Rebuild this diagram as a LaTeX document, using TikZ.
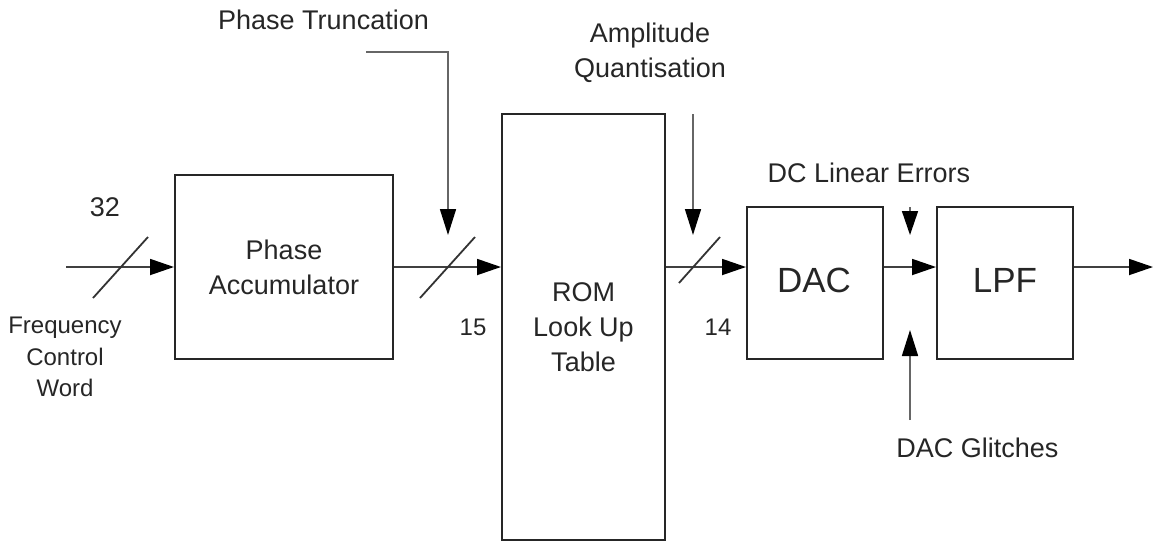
\documentclass[tikz,border=0pt]{standalone}
\usepackage{fontspec}
\setmainfont{Liberation Sans}
\usetikzlibrary{arrows.meta}
\begin{document}
\begin{tikzpicture}[x=1pt,y=-1pt,
  block/.style={draw=black!85, line width=2pt, inner sep=0pt, align=center, text=black!85},
  txtbig/.style={font=\fontsize{27}{35}\selectfont},
  txthuge/.style={font=\fontsize{35}{42}\selectfont},
  lbl/.style={inner sep=0pt, align=center, text=black!85, font=\fontsize{27}{35}\selectfont},
  small/.style={inner sep=0pt, align=center, text=black!85, font=\fontsize{24}{31.5}\selectfont},
  sig/.style={line width=1.8pt, draw=black!75, -{Triangle[length=24pt,width=16pt,color=black]}},
  err/.style={line width=1.6pt, draw=black!60, -{Triangle[length=26pt,width=16pt,color=black]}},
  bus/.style={line width=1.8pt, draw=black!80}]
\useasboundingbox (0,0) rectangle (1155,542);

% processing blocks
\node[block, txtbig, minimum width=218pt, minimum height=184pt] (pa) at (284,267) {Phase\\Accumulator};
\node[block, txtbig, minimum width=163pt, minimum height=426pt] (rom) at (583.5,327) {ROM\\Look Up\\Table};
\node[block, minimum width=136pt, minimum height=152pt] (dac) at (815,283) {};
\node[block, minimum width=136pt, minimum height=152pt] (lpf) at (1005,283) {};
\node[txthuge, inner sep=0pt, text=black!85] (dact) at (814,280) {DAC};
\node[txthuge, inner sep=0pt, text=black!85] (lpft) at (1005,280) {LPF};

% signal path end points and bus markers
\coordinate (fin) at (66,267);
\coordinate (fout) at (1153,267);
\coordinate (s1) at (121,267);
\coordinate (s2) at (448,267);
\coordinate (s3) at (693,267);
\coordinate (s4) at (910,267);

% error sources
\coordinate (ptk) at (366,52);
\coordinate (aq) at (693,114);
\coordinate (dce) at (910,207);
\coordinate (dg) at (910,420);

% main signal path
\draw[sig] (fin) -- (pa.west);
\draw[sig] (pa.east) -- (pa.east -| rom.west);
\draw[sig] (pa.east -| rom.east) -- (pa.east -| dac.west);
\draw[sig] (pa.east -| dac.east) -- (pa.east -| lpf.west);
\draw[sig] (pa.east -| lpf.east) -- (fout);

% bus width markers
\draw[bus] (s1) ++(-28,31) -- ++(55,-61);
\draw[bus] (s2) ++(-28,31) -- ++(55,-61);
\draw[bus] (s3) ++(-14,16) -- ++(41,-46);

% error injection arrows
\draw[err] (ptk) -| ([yshift=32pt]s2);
\draw[err] (aq) -- ([yshift=32pt]s3);
\draw[err, -{Triangle[length=24pt,width=16pt,color=black]}] (dce) -- ([yshift=32pt]s4);
\draw[err] (dg) -- ([yshift=-63pt]s4);

% labels
\node[lbl] (n32) at (105,207) {32};
\node[small] (n15) at (473,327) {15};
\node[small] (n14) at (718,327) {14};
\node[small] (fcw) at (65,357) {Frequency\\Control\\Word};
\node[lbl] (ptl) at (323.5,20) {Phase Truncation};
\node[lbl] (aql) at (650,52.5) {Amplitude\\Quantisation};
\node[lbl] (dcl) at (869,173) {DC Linear Errors};
\node[lbl] (dgl) at (977.5,448) {DAC Glitches};
\end{tikzpicture}
\end{document}
